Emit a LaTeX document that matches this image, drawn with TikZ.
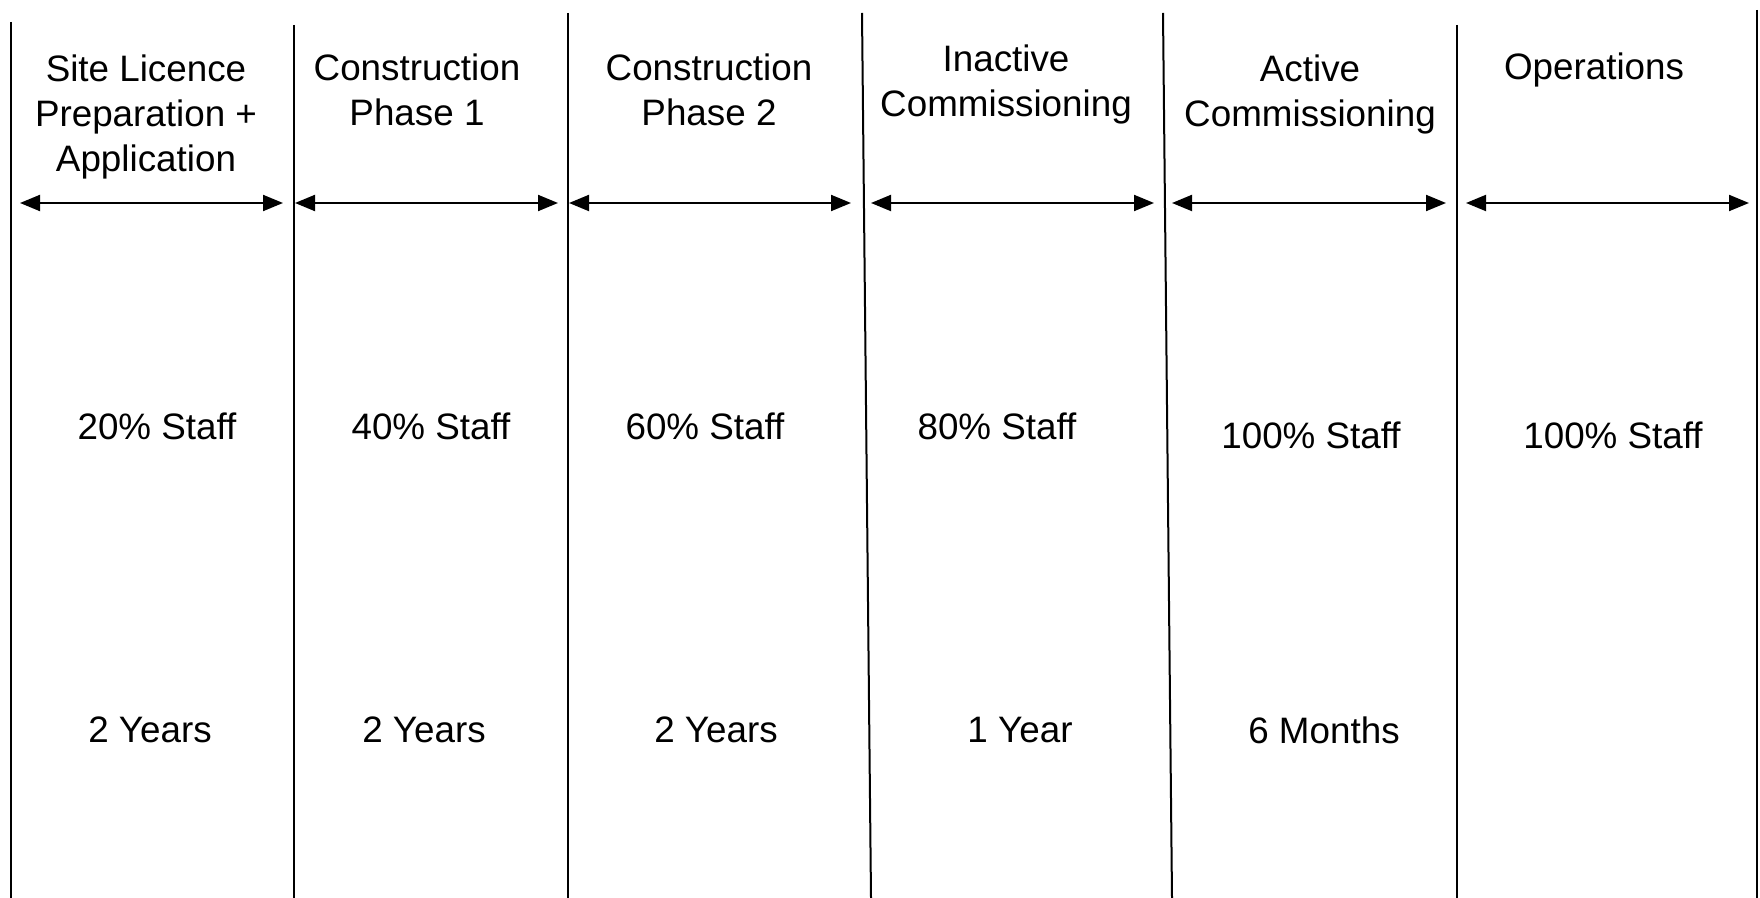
\documentclass[tikz,border=0pt]{standalone}
\usepackage{fontspec}
\setmainfont{Liberation Sans}
\usetikzlibrary{arrows.meta}
\tikzstyle{cell} = [align=center, inner sep=0pt, font=\fontsize{18.4pt}{22.5pt}\selectfont]
\tikzstyle{divider} = [line width=1pt]
\tikzstyle{span} = [line width=1pt, {Triangle[length=10pt,width=8pt]}-{Triangle[length=10pt,width=8pt]}]

\begin{document}
\begin{tikzpicture}[x=0.5pt, y=-0.5pt]
    \useasboundingbox (0,0) rectangle (1760,898);

    % column dividers
    \coordinate (top0) at (11,22);   \coordinate (bot0) at (11,898);
    \coordinate (top1) at (294,25);  \coordinate (bot1) at (294,898);
    \coordinate (top2) at (568,13);  \coordinate (bot2) at (568,898);
    \coordinate (top3) at (862,13);  \coordinate (bot3) at (871,898);
    \coordinate (top4) at (1163,13); \coordinate (bot4) at (1172,898);
    \coordinate (top5) at (1457,25); \coordinate (bot5) at (1457,898);
    \coordinate (top6) at (1757,10); \coordinate (bot6) at (1757,898);

    \draw [divider] (top0) -- (bot0);
    \draw [divider] (top1) -- (bot1);
    \draw [divider] (top2) -- (bot2);
    \draw [divider] (top3) -- (bot3);
    \draw [divider] (top4) -- (bot4);
    \draw [divider] (top5) -- (bot5);
    \draw [divider] (top6) -- (bot6);

    % phase names
    \node (site_licence) [cell] at (146,117) {Site Licence\\Preparation +\\Application};
    \node (construction_1) [cell] at (417,89.5) {Construction\\Phase 1};
    \node (construction_2) [cell] at (709,89.5) {Construction\\Phase 2};
    \node (inactive) [cell] at (1006,84) {Inactive\\Commissioning};
    \node (active) [cell] at (1310,94) {Active\\Commissioning};
    \node (operations) [cell] at (1594,70) {Operations};

    % phase spans
    \coordinate (span0l) at (20,203);   \coordinate (span0r) at (283,203);
    \coordinate (span1l) at (295,203);  \coordinate (span1r) at (558,203);
    \coordinate (span2l) at (569,203);  \coordinate (span2r) at (851,203);
    \coordinate (span3l) at (871,203);  \coordinate (span3r) at (1154,203);
    \coordinate (span4l) at (1172,203); \coordinate (span4r) at (1446,203);
    \coordinate (span5l) at (1466,203); \coordinate (span5r) at (1749,203);

    \draw [span] (span0l) -- (span0r);
    \draw [span] (span1l) -- (span1r);
    \draw [span] (span2l) -- (span2r);
    \draw [span] (span3l) -- (span3r);
    \draw [span] (span4l) -- (span4r);
    \draw [span] (span5l) -- (span5r);

    % staffing
    \node (staff_site) [cell] at (157,426) {20\% Staff};
    \node (staff_con1) [cell] at (431,426) {40\% Staff};
    \node (staff_con2) [cell] at (705,426) {60\% Staff};
    \node (staff_inactive) [cell] at (997,426) {80\% Staff};
    \node (staff_active) [cell] at (1311,435) {100\% Staff};
    \node (staff_ops) [cell] at (1613,435) {100\% Staff};

    % durations
    \node (years_site) [cell] at (150,730) {2 Years};
    \node (years_con1) [cell] at (424,730) {2 Years};
    \node (years_con2) [cell] at (716,730) {2 Years};
    \node (year_inactive) [cell] at (1020,730) {1 Year};
    \node (months_active) [cell] at (1324,730) {6 Months};

\end{tikzpicture}
\end{document}
